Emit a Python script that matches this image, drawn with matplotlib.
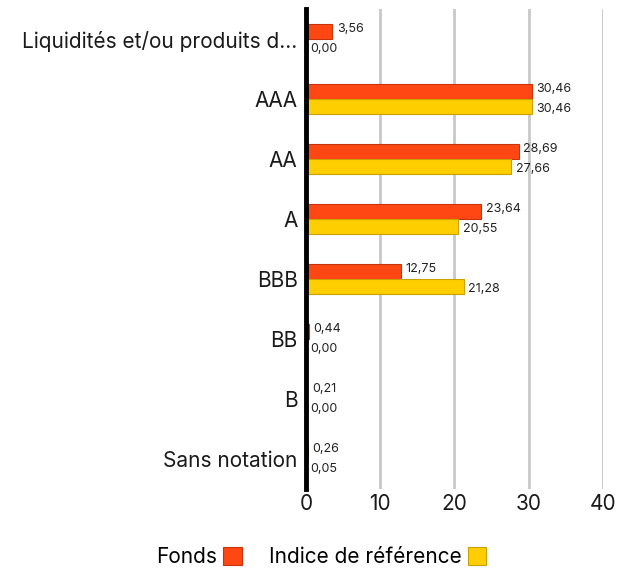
import matplotlib.pyplot as plt
import numpy as np

plt.rcParams['font.family'] = ['Inter', 'DejaVu Sans']

categories = ['Liquidités et/ou produits d...', 'AAA', 'AA', 'A', 'BBB', 'BB', 'B', 'Sans notation']
fonds = [3.56, 30.46, 28.69, 23.64, 12.75, 0.44, 0.21, 0.26]
indice = [0.00, 30.46, 27.66, 20.55, 21.28, 0.00, 0.00, 0.05]

red = '#FF4713'
yellow = '#FFCE00'

fig = plt.figure(figsize=(6.32, 5.71), dpi=100)
ax = fig.add_axes([0.484, 0.144, 0.47, 0.84])

y = np.arange(len(categories))
h = 0.25
ax.barh(y - h / 2, fonds, height=h, color=red, edgecolor='#C8340A', linewidth=0.8, label='Fonds', zorder=3)
ax.barh(y + h / 2, indice, height=h, color=yellow, edgecolor='#C9A200', linewidth=0.8, label='Indice de référence', zorder=3)

for i in range(len(categories)):
    ax.text(fonds[i] + 0.6, y[i] - h / 2 - 0.04, f'{fonds[i]:.2f}'.replace('.', ','),
            va='center', ha='left', fontsize=9, color='#222222')
    ax.text(indice[i] + 0.6, y[i] + h / 2 + 0.04, f'{indice[i]:.2f}'.replace('.', ','),
            va='center', ha='left', fontsize=9, color='#222222')

ax.set_ylim(len(categories) - 0.5, -0.5)
ax.set_xlim(0, 40)
ax.set_xticks([0, 10, 20, 30, 40])
ax.set_yticks(y)
ax.set_yticklabels(categories)
ax.tick_params(axis='both', length=0, labelsize=15, colors='#1a1a1a')
ax.tick_params(axis='y', pad=6)
ax.tick_params(axis='x', pad=4)

ax.grid(axis='x', color='#C8C8C8', linewidth=2, zorder=0)
ax.grid(axis='y', visible=False)
for s in ['top', 'right', 'bottom']:
    ax.spines[s].set_visible(False)
ax.spines['left'].set_linewidth(3.5)
ax.spines['left'].set_color('black')
ax.spines['left'].set_zorder(4)

handles, labels = ax.get_legend_handles_labels()
fig.legend(handles, labels, loc='center', bbox_to_anchor=(0.508, 0.024), ncol=2,
           frameon=False, markerfirst=False, fontsize=15, handlelength=0.9,
           handleheight=0.9, columnspacing=1.3, handletextpad=0.3)

fig.savefig('out.png', dpi=100)
